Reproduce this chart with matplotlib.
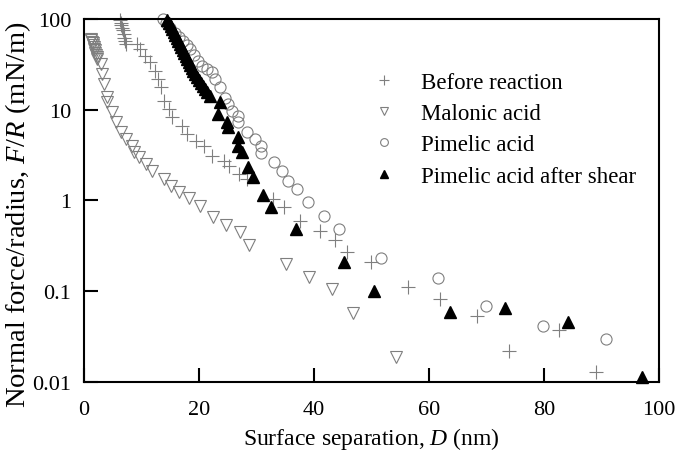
import matplotlib
matplotlib.use("Agg")
import matplotlib.pyplot as plt

plt.rcParams['font.family'] = ['Liberation Serif', 'DejaVu Serif']
plt.rcParams['mathtext.fontset'] = 'custom'
plt.rcParams['mathtext.rm'] = 'Liberation Serif'
plt.rcParams['mathtext.it'] = 'Liberation Serif:italic'

# Before reaction (+)
before_x = [6.2, 6.4, 6.5, 6.6, 6.7, 6.9, 7.0, 7.2, 7.3, 9.2, 9.8, 10.6, 11.5, 12.4, 12.9, 13.4,
            13.9, 14.8, 15.3, 17.1, 17.9, 19.5, 20.9, 22.3, 24.4, 25.3, 27.0, 28.4, 32.8, 34.7,
            37.5, 41.1, 43.7, 45.8, 50.0, 56.3, 62.0, 68.3, 74.0, 82.6, 89.0]
before_y = [98, 90, 85, 80, 75, 68, 62, 57, 53, 53, 47, 39, 33.6, 26.7, 21.8, 17.8,
            12.5, 10.2, 8.3, 6.6, 5.4, 4.5, 4.0, 3.1, 2.72, 2.4, 1.95, 1.73, 1.04, 0.85,
            0.59, 0.46, 0.37, 0.27, 0.21, 0.111, 0.082, 0.053, 0.022, 0.037, 0.013]

# Malonic acid (open down triangles)
malonic_x = [1.2, 1.3, 1.4, 1.5, 1.6, 1.7, 1.8, 1.9, 2.0, 2.1, 2.2, 2.3, 3.0, 3.1, 3.5, 4.0,
             4.0, 4.9, 5.6, 6.4, 7.3, 8.4, 8.7, 9.6, 10.8, 11.8, 13.9, 15.2, 16.6, 18.3,
             20.2, 22.5, 24.7, 27.2, 28.7, 35.2, 39.2, 43.2, 46.8, 54.2]
malonic_y = [60, 58, 56, 54, 52, 49, 47, 45, 42, 40, 38, 36, 32, 24.8, 19.2, 13.8,
             12.2, 9.4, 7.3, 5.7, 4.8, 4.0, 3.4, 3.0, 2.5, 2.1, 1.73, 1.45, 1.24, 1.07,
             0.87, 0.66, 0.54, 0.45, 0.32, 0.2, 0.144, 0.106, 0.058, 0.019]

# Pimelic acid (open circles)
pimelic_x = [13.8, 14.3, 15.0, 15.9, 16.6, 17.2, 17.9, 18.5, 19.2, 19.9, 20.6, 21.4, 22.3,
             22.8, 23.7, 24.6, 25.1, 25.8, 26.8, 26.8, 28.4, 29.8, 30.7, 30.7, 33.1, 34.5,
             35.4, 37.1, 39.0, 41.8, 44.3, 51.6, 61.5, 70.0, 79.8, 90.8]
pimelic_y = [100, 90.4, 79.6, 70.1, 63.4, 57.2, 51.7, 46.8, 40.1, 34.4, 30.3, 28.2, 26.1,
             21.8, 17.8, 13.5, 11.6, 9.7, 8.5, 7.3, 5.7, 4.8, 4.0, 3.3, 2.65, 2.1,
             1.64, 1.34, 0.96, 0.68, 0.49, 0.23, 0.14, 0.069, 0.041, 0.030]

# Pimelic acid after shear (filled triangles)
shear_x = [14.46, 14.81, 15.16, 15.33, 15.68, 15.85, 16.20, 16.38, 16.72, 16.90, 17.25, 17.42,
           17.77, 17.94, 18.29, 18.47, 18.82, 18.99, 19.34, 19.69, 20.03, 20.38, 20.73, 21.08,
           21.43, 21.95, 23.7, 23.3, 24.9, 25.1, 26.7, 26.7, 27.5, 28.6, 29.4, 31.2, 32.6,
           36.9, 45.3, 50.5, 63.6, 73.2, 84.1, 97.0]
shear_y = [97.5, 90.3, 83.8, 77.6, 71.9, 66.7, 61.8, 57.3, 53.1, 49.1, 45.5, 42.2,
           39.1, 36.2, 33.6, 31.1, 28.8, 26.7, 24.8, 23.0, 21.3, 19.7, 18.3, 16.9,
           15.7, 14.2, 12.2, 9.0, 7.3, 6.45, 5.0, 4.0, 3.4, 2.34, 1.8, 1.15, 0.85,
           0.485, 0.21, 0.10, 0.059, 0.065, 0.046, 0.0114]

fig = plt.figure(figsize=(6.79, 4.52), dpi=100)
ax = fig.add_axes([0.1237, 0.1527, 0.8468, 0.8031])

gray = '#7f7f7f'
ax.plot(before_x, before_y, ls='none', marker='+', ms=10, mew=0.8, color=gray,
        label='Before reaction', clip_on=False)
ax.plot(malonic_x, malonic_y, ls='none', marker='v', ms=8, mew=0.8, mfc='none', mec=gray,
        label='Malonic acid', clip_on=False)
ax.plot(pimelic_x, pimelic_y, ls='none', marker='o', ms=8, mew=0.8, mfc='none', mec=gray,
        label='Pimelic acid', clip_on=False)
ax.plot(shear_x, shear_y, ls='none', marker='^', ms=8, color='black',
        label='Pimelic acid after shear', clip_on=False)

ax.set_yscale('log')
ax.set_xlim(0, 100)
ax.set_ylim(0.01, 100)
ax.set_xticks([0, 20, 40, 60, 80, 100])
ax.set_yticks([0.01, 0.1, 1, 10, 100])
ax.set_yticklabels(['0.01', '0.1', '1', '10', '100'])
ax.yaxis.set_minor_locator(matplotlib.ticker.NullLocator())
ax.tick_params(direction='in', length=10, width=1.5, labelsize=16)
ax.tick_params(axis='x', pad=13)
ax.tick_params(axis='y', pad=9)
for s in ax.spines.values():
    s.set_linewidth(1.5)

ax.set_xlabel('Surface separation, $D$ (nm)', fontsize=17, labelpad=4)
ax.set_ylabel('Normal force/radius, $F/R$ (mN/m)', fontsize=20.5)
ax.yaxis.set_label_coords(-0.088, 0.463)

ax.legend(loc='upper left', bbox_to_anchor=(0.502, 0.855), frameon=False, fontsize=16.5,
          markerscale=0.7, handlelength=1.0, handletextpad=1.1, labelspacing=0.45,
          borderaxespad=0, borderpad=0)

fig.savefig('out.png', dpi=100)
